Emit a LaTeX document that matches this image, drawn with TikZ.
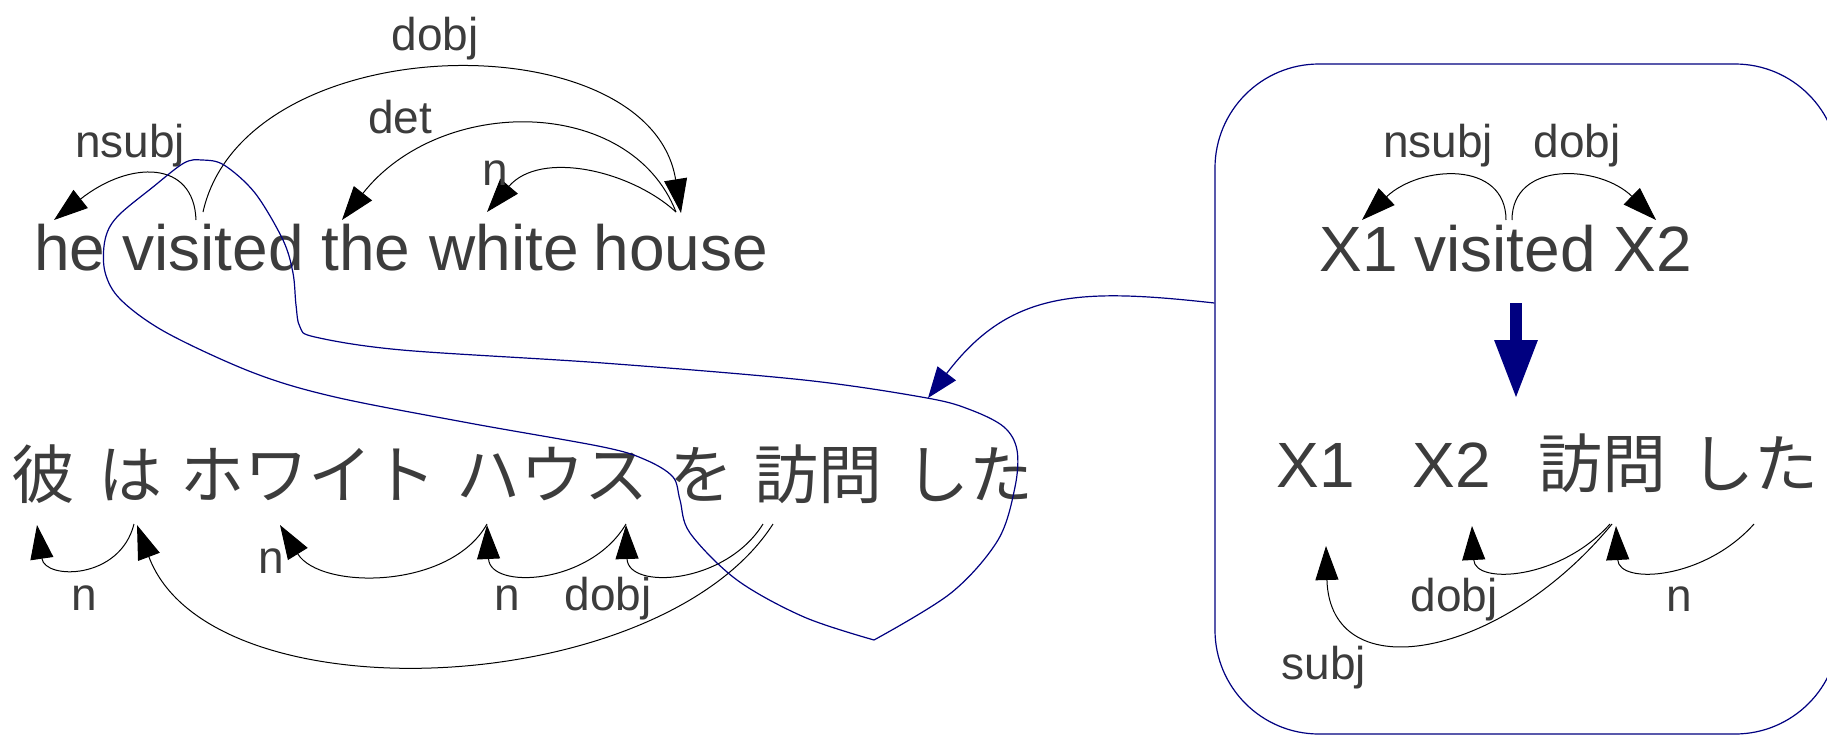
\documentclass[tikz,border=0pt]{standalone}
\usepackage{fontspec}
\setmainfont{Liberation Sans}
\newfontfamily\jpfont{Noto Sans CJK JP}
\usetikzlibrary{arrows.meta,calc}
\definecolor{tgray}{HTML}{3C3C3C}
\definecolor{navyb}{HTML}{000080}
\tikzset{
  word/.style={font=\fontsize{32}{38}\selectfont, text=tgray, inner sep=0pt, anchor=base},
  jword/.style={font=\jpfont\fontsize{32}{38}\selectfont, text=tgray, inner sep=0pt, anchor=base},
  lbl/.style={font=\fontsize{23}{28}\selectfont, text=tgray, inner sep=0pt, anchor=base},
  dep/.style={draw=black, line width=0.5pt, -{Triangle[length=17pt,width=11.5pt]}},
  blueline/.style={draw=navyb, line width=0.6pt},
  bluearrow/.style={draw=navyb, line width=0.6pt, -{Triangle[length=15.5pt,width=11.5pt]}, fill=none},
  bigarrow/.style={draw=navyb, line width=6pt, -{Triangle[length=29.5pt,width=20pt]}},
  rulebox/.style={draw=navyb, line width=0.6pt, rounded corners=52pt, minimum width=312pt, minimum height=335pt, inner sep=0pt}
}
\begin{document}
\begin{tikzpicture}[x=0.5pt,y=-0.5pt]
\useasboundingbox (0,0) rectangle (1827,735);
\clip (0,0) rectangle (1827,735);

% English sentence
\node[word] (he) at (70,270) {he};
\node[word] (vis) at (213,270) {visited};
\node[word] (the) at (366,270) {the};
\node[word] (white) at (504,270) {white};
\node[word] (house) at (681,270) {house};

\draw[dep] ($(vis.base)+(-17,-50)$) .. controls +(-2,-60) and +(76,-60) .. ($(he.base)+(-16,-50)$);
\draw[dep] ($(vis.base)+(-10,-58)$) .. controls +(42,-187) and +(-31,-193) .. ($(house.base)+(0,-57)$);
\draw[dep] ($(house.base)+(-5,-58)$) .. controls +(-46,-117) and +(98,-125) .. ($(the.base)+(-24,-50)$);
\draw[dep] ($(house.base)+(-5,-58)$) .. controls +(-46,-42) and +(53,-62) .. ($(white.base)+(-17,-58)$);

\node[lbl] (l-dobj) at (435,50) {dobj};
\node[lbl] (l-det) at (400,133) {det};
\node[lbl] (l-nsubj) at (130,157) {nsubj};
\node[lbl] (l-n) at (495,185) {n};

% Japanese sentence
\node[jword] (kare) at (43.5,498) {彼};
\node[jword] (wa) at (130.5,498) {は};
\node[jword] (howaito) at (308,498) {ホワイト};
\node[jword] (hausu) at (552.5,498) {ハウス};
\node[jword] (wo) at (701.5,498) {を};
\node[jword] (houmon) at (818.5,498) {訪問};
\node[jword] (shita) at (969.5,498) {した};

\draw[dep] ($(wa.base)+(3.5,26)$) .. controls +(-14,56) and +(8,55) .. ($(kare.base)+(-6.5,27)$);
\draw[dep] ($(houmon.base)+(-45.5,26)$) .. controls +(-113,176) and +(73,195) .. ($(wa.base)+(6.5,27)$);
\draw[dep] ($(hausu.base)+(-65.5,26)$) .. controls +(-37,66) and +(40,65) .. ($(howaito.base)+(-28,27)$);
\draw[dep] ($(hausu.base)+(73.5,26)$) .. controls +(-36,61) and +(3,65) .. ($(hausu.base)+(-65.5,27)$);
\draw[dep] ($(houmon.base)+(-55.5,26)$) .. controls +(-38,61) and +(2,65) .. ($(hausu.base)+(73.5,27)$);

\node[lbl] (jl-n1) at (84,610) {n};
\node[lbl] (jl-n2) at (271,573) {n};
\node[lbl] (jl-n3) at (507,610) {n};
\node[lbl] (jl-dobj) at (608,610) {dobj};

% alignment loop
\draw[blueline] plot[smooth, tension=0.55] coordinates {
 (874,640) (804,617) (737,580) (690,533) (680,500) (673,477) (646,460) (603,447)
 (469,423) (335,397) (254,373) (167,333) (121,300) (105,272) (105,240) (117,217)
 (153,187) (184,163) (202,160) (224,165) (255,193) (283,240) (293,273) (296,305)
 (300,327) (315,337) (402,350) (603,363) (804,380) (927,398) (971,410) (1004,427)
 (1017,450) (1015,487) (998,540) (951,593) (874,640)};
\coordinate (looptip) at (928,398);

% rule box
\node[rulebox] (rule) at (1527,399) {};
\draw[bluearrow] ($(rule.west)+(0,-96)$) .. controls +(-135,-15) and +(82,-108) .. (looptip);

\node[word] (rX1) at (1359,271) {X1};
\node[word] (rvis) at (1505,271) {visited};
\node[word] (rX2) at (1653,271) {X2};

\draw[dep] ($(rvis.base)+(1,-51)$) .. controls +(0,-60) and +(58,-55) .. ($(rX1.base)+(3,-51)$);
\draw[dep] ($(rvis.base)+(7,-51)$) .. controls +(0,-60) and +(-56,-55) .. ($(rX2.base)+(3,-51)$);
\node[lbl] (rl-nsubj) at (1438,157) {nsubj};
\node[lbl] (rl-dobj) at (1577,157) {dobj};

\draw[bigarrow] ($(rvis.base)+(11,32)$) -- ($(rvis.base)+(11,128)$);

\node[word] (bX1) at (1316,487) {X1};
\node[word] (bX2) at (1452,487) {X2};
\node[jword] (bhoumon) at (1602,487) {訪問};
\node[jword] (bshita) at (1754,487) {した};

\draw[dep] ($(bhoumon.base)+(10,37)$) .. controls +(-112,136) and +(4,144) .. ($(bX1.base)+(10,59)$);
\draw[dep] ($(bhoumon.base)+(8,37)$) .. controls +(-50,56) and +(3,59) .. ($(bX2.base)+(20,39)$);
\draw[dep] ($(bshita.base)+(0,37)$) .. controls +(-50,56) and +(3,59) .. ($(bhoumon.base)+(14,39)$);

\node[lbl] (bl-dobj) at (1454,611) {dobj};
\node[lbl] (bl-n) at (1679,611) {n};
\node[lbl] (bl-subj) at (1324,679) {subj};
\end{tikzpicture}
\end{document}
